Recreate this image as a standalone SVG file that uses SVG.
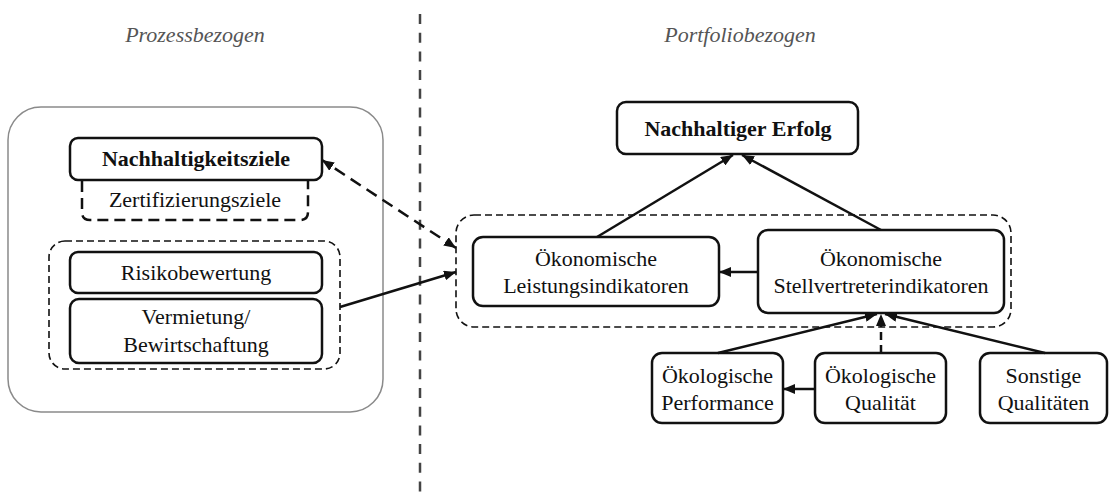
<svg xmlns="http://www.w3.org/2000/svg" width="1109" height="492" viewBox="0 0 1109 492" font-family="'Liberation Serif', 'Times New Roman', Times, 'DejaVu Serif', serif" font-size="22">
  <style>
    text { fill: #111; text-anchor: middle; }
    .bold { font-weight: bold; }
    .title { font-style: italic; fill: #555; }
    .box { fill: #fff; stroke: #111; stroke-width: 2.5; }
    .group { fill: none; stroke: #111; stroke-width: 1.6; stroke-dasharray: 7 4; }
    .sub { fill: none; stroke: #111; stroke-width: 2.5; stroke-dasharray: 11 6; }
    .frame { fill: #fff; stroke: #8a8a8a; stroke-width: 1.5; }
    .divider { stroke: #444; stroke-width: 2.5; stroke-dasharray: 10 8.7; }
    .edge { fill: none; stroke: #111; stroke-width: 2.5; marker-end: url(#head); }
    .dashed { stroke-dasharray: 12 7; }
  </style>
  <defs>
    <marker id="head" viewBox="0 0 12 10" refX="12" refY="5" markerWidth="12" markerHeight="10" markerUnits="userSpaceOnUse" orient="auto-start-reverse">
      <path d="M0,0 L12,5 L0,10 z" fill="#111"/>
    </marker>
  </defs>

  <rect width="1109" height="492" fill="#fff"/>

  <!-- section headings and divider -->
  <text class="title" x="195" y="42">Prozessbezogen</text>
  <text class="title" x="740" y="42">Portfoliobezogen</text>
  <line class="divider" x1="420" y1="14" x2="420" y2="492"/>

  <!-- process side -->
  <g id="process-frame">
    <rect class="frame" x="8" y="107" width="375" height="305" rx="33"/>
  </g>
  <g id="nachhaltigkeitsziele">
    <path class="sub" d="M82,181 V212 Q82,220 90,220 H300 Q308,220 308,212 V181"/>
    <rect class="box" x="70" y="138" width="252" height="42" rx="8"/>
    <text class="bold" x="196" y="166">Nachhaltigkeitsziele</text>
    <text x="195" y="207">Zertifizierungsziele</text>
  </g>
  <g id="prozess-gruppe">
    <rect class="group" x="49" y="241" width="291" height="128" rx="16"/>
  </g>
  <g id="risikobewertung">
    <rect class="box" x="70" y="252" width="252" height="41" rx="8"/>
    <text x="196" y="280">Risikobewertung</text>
  </g>
  <g id="vermietung">
    <rect class="box" x="70" y="299" width="252" height="64" rx="9"/>
    <text x="196" y="324">Vermietung/</text>
    <text x="196" y="352">Bewirtschaftung</text>
  </g>

  <!-- portfolio side -->
  <g id="nachhaltiger-erfolg">
    <rect class="box" x="617" y="102" width="241" height="52" rx="9"/>
    <text class="bold" x="738" y="136">Nachhaltiger Erfolg</text>
  </g>
  <g id="oekonomie-gruppe">
    <rect class="group" x="456" y="215" width="555" height="112" rx="18"/>
  </g>
  <g id="leistungsindikatoren">
    <rect class="box" x="473" y="237" width="246" height="69" rx="10"/>
    <text x="596" y="266">Ökonomische</text>
    <text x="596" y="293">Leistungsindikatoren</text>
  </g>
  <g id="stellvertreterindikatoren">
    <rect class="box" x="758" y="230" width="246" height="83" rx="10"/>
    <text x="881" y="266">Ökonomische</text>
    <text x="881" y="293">Stellvertreterindikatoren</text>
  </g>
  <g id="oekologische-performance">
    <rect class="box" x="652" y="353" width="131" height="70" rx="10"/>
    <text x="717.5" y="383">Ökologische</text>
    <text x="717.5" y="410">Performance</text>
  </g>
  <g id="oekologische-qualitaet">
    <rect class="box" x="815" y="353" width="131" height="70" rx="10"/>
    <text x="880.5" y="383">Ökologische</text>
    <text x="880.5" y="410">Qualität</text>
  </g>
  <g id="sonstige-qualitaeten">
    <rect class="box" x="980" y="353" width="127" height="70" rx="10"/>
    <text x="1043.5" y="383">Sonstige</text>
    <text x="1043.5" y="410">Qualitäten</text>
  </g>

  <!-- connectors -->
  <g id="connectors">
    <line class="edge dashed" x1="456" y1="248" x2="322" y2="160" marker-start="url(#head)"/>
    <line class="edge" x1="340" y1="307" x2="456" y2="272"/>
    <line class="edge" x1="597" y1="237" x2="733" y2="155"/>
    <line class="edge" x1="881" y1="230" x2="742" y2="155"/>
    <line class="edge" x1="758" y1="272" x2="719" y2="272"/>
    <line class="edge" x1="718" y1="353" x2="877" y2="314"/>
    <line class="edge" x1="881" y1="353" x2="881" y2="314" stroke-dasharray="8 5"/>
    <line class="edge" x1="1045" y1="353" x2="885" y2="314"/>
    <line class="edge" x1="815" y1="389" x2="783" y2="389"/>
  </g>
</svg>
